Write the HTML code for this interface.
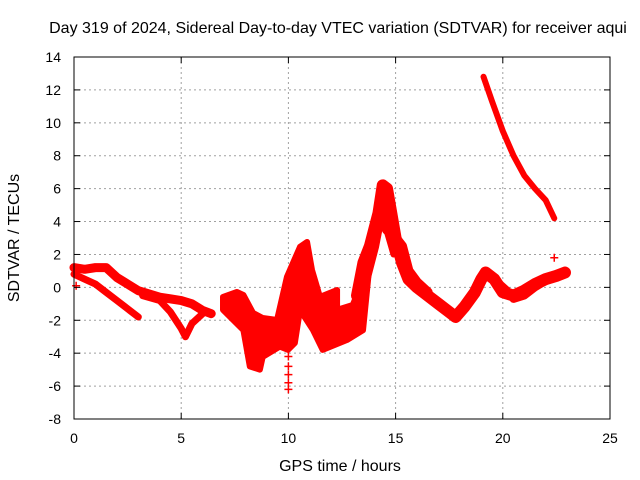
<!DOCTYPE html>
<html><head><meta charset="utf-8"><style>
body{margin:0;background:#fff}
svg{display:block;font-family:"Liberation Sans",sans-serif}
</style></head><body>
<svg id="chart" width="640" height="480" viewBox="0 0 640 480">
<text x="338" y="33" font-size="16" text-anchor="middle">Day 319 of 2024, Sidereal Day-to-day VTEC variation (SDTVAR) for receiver aqui</text>
<text x="340" y="471" font-size="16" text-anchor="middle">GPS time / hours</text>
<text transform="translate(19,238) rotate(-90)" font-size="16" text-anchor="middle">SDTVAR / TECUs</text>
<g id="grid"></g><g id="marks"></g><g id="axes"></g>
</svg>
<script>
const xTicks=[0,5,10,15,20,25];
const yTicks=[-8,-6,-4,-2,0,2,4,6,8,10,12,14];
const bandUpperX=[0,0.5,1,1.5,2,2.5,3,3.5,4,4.5,5,5.5,6,6.4];
const bandUpperY=[1.2,1.1,1.2,1.2,0.6,0.2,-0.2,-0.4,-0.6,-0.7,-0.8,-1.0,-1.4,-1.6];
const bandLowerX=[0,0.5,1,1.5,2,2.5,3];
const bandLowerY=[0.8,0.5,0.2,-0.3,-0.8,-1.3,-1.8];
const dipX=[3.2,4,4.5,5,5.2,5.5,6];
const dipY=[-0.5,-0.8,-1.5,-2.5,-3.0,-2.2,-1.6];
const blobX=[6.95,7.6,7.9,8.35,8.8,9.47,9.93,10.54,10.87,11.1,11.47,12.27,12.27,13.0,13.48,13.95,13.48,12.73,11.6,11.15,10.54,10.3,9.98,9.6,8.8,8.67,8.2,7.9,6.95];
const blobY=[-0.58,-0.28,-0.46,-1.55,-1.86,-1.98,0.63,2.46,2.76,1.06,-0.58,-0.16,-1.37,-1.07,0.45,3.5,-2.6,-3.2,-3.8,-2.6,-1.37,-3.38,-3.8,-3.6,-4.23,-5.0,-4.8,-2.6,-1.37];
const mainX=[13.2,13.5,13.8,14,14.2,14.4,14.6,14.8,15,15.3,15.6,16,16.5,17,17.5,17.8,18.2,18.7,19,19.2,19.6,20,20.5,21,21.5,22,22.5,22.9];
const mainY=[-0.5,1.5,2.5,3.5,4.5,6.2,6.0,4.5,3.0,1.5,0.5,0,-0.5,-1.0,-1.5,-1.8,-1.2,-0.3,0.5,0.9,0.5,-0.3,-0.5,-0.2,0.2,0.5,0.7,0.9];
const peak2X=[13.5,14,14.3,14.6,15,15.3,15.6,16,16.5];
const peak2Y=[0,2.5,4.5,3.5,3.0,2.5,1.0,0.3,-0.3];
const branchX=[14.3,14.5,14.9];
const branchY=[4.5,3.8,2.0];
const lowX=[19.2,19.6,20.2,20.5,21,21.5,22,22.6];
const lowY=[1.0,0.5,-0.2,-0.7,-0.5,0,0.4,0.8];
const highX=[19.1,19.5,20,20.5,21,21.5,22,22.4];
const highY=[12.8,11.3,9.5,8.0,6.8,6.0,5.3,4.2];
const spikeX=[10,10,10,10,10,10,10,0.1,22.4];
const spikeY=[-6.2,-5.8,-5.3,-4.8,-4.2,-3.6,-3.0,0.1,1.8];

const L=74,R=610,T=57,B=419;
const sx=v=>L+(v-0)/(25-0)*(R-L);
const sy=v=>B-(v+8)/(22)*(B-T);
const NS="http://www.w3.org/2000/svg";
function mk(tag,parent){const e=document.createElementNS(NS,tag);document.getElementById(parent).appendChild(e);return e;}

xTicks.forEach(t=>{
 if(t>0&&t<25){const g=mk('line','grid');
 
 
 g.setAttribute('x1',sx(t));g.setAttribute('x2',sx(t));g.setAttribute('y1',T);g.setAttribute('y2',B);
 g.setAttribute('stroke','#a0a0a0');g.setAttribute('stroke-dasharray','2,3');}
 const tl=mk('text','axes');
 
 
 tl.setAttribute('x',sx(t));tl.setAttribute('y',B+24);tl.setAttribute('font-size','14');tl.setAttribute('text-anchor','middle');tl.textContent=t;
 [[B,B-6],[T,T+6]].forEach(p=>{const tk=mk('line','axes');
 
 
 tk.setAttribute('x1',sx(t));tk.setAttribute('x2',sx(t));tk.setAttribute('y1',p[0]);tk.setAttribute('y2',p[1]);tk.setAttribute('stroke','#000');});
});
yTicks.forEach(t=>{
 if(t>-8&&t<14){const g=mk('line','grid');
 
 
 g.setAttribute('x1',L);g.setAttribute('x2',R);g.setAttribute('y1',sy(t));g.setAttribute('y2',sy(t));
 g.setAttribute('stroke','#a0a0a0');g.setAttribute('stroke-dasharray','2,3');}
 const tl=mk('text','axes');
 
 
 tl.setAttribute('x',L-13);tl.setAttribute('y',sy(t)+5);tl.setAttribute('font-size','14');tl.setAttribute('text-anchor','end');tl.textContent=t;
 [[L,L+6],[R,R-6]].forEach(p=>{const tk=mk('line','axes');
 
 
 tk.setAttribute('x1',p[0]);tk.setAttribute('x2',p[1]);tk.setAttribute('y1',sy(t));tk.setAttribute('y2',sy(t));tk.setAttribute('stroke','#000');});
});
const fr=mk('rect','axes');


fr.setAttribute('x',L);fr.setAttribute('y',T);fr.setAttribute('width',R-L);fr.setAttribute('height',B-T);fr.setAttribute('fill','none');fr.setAttribute('stroke','#000');

function series(xs,ys,w,name){
 const p=mk('polyline','marks');
 
 
 p.setAttribute('points',xs.map((x,i)=>sx(x)+','+sy(ys[i])).join(' '));
 p.setAttribute('fill','none');p.setAttribute('stroke','#ff0000');p.setAttribute('stroke-width',w);
 p.setAttribute('stroke-linejoin','round');p.setAttribute('stroke-linecap','round');
}
const blob=mk('polygon','marks');


blob.setAttribute('points',blobX.map((x,i)=>sx(x)+','+sy(blobY[i])).join(' '));
blob.setAttribute('fill','#ff0000');blob.setAttribute('stroke','#ff0000');blob.setAttribute('stroke-width','6');blob.setAttribute('stroke-linejoin','round');
series(bandUpperX,bandUpperY,9,'sdtvar-upper-band');
series(bandLowerX,bandLowerY,7,'sdtvar-lower-band');
series(dipX,dipY,7,'sdtvar-dip-band');
series(mainX,mainY,12,'sdtvar-main-trace');
series(peak2X,peak2Y,10,'sdtvar-peak-branch');
series(branchX,branchY,6,'sdtvar-peak-descent');
series(lowX,lowY,8,'sdtvar-evening-band');
series(highX,highY,6,'sdtvar-high-arc');
spikeX.forEach((x,i)=>{
 const m=mk('path','marks');
 
 
 const cx=sx(x),cy=sy(spikeY[i]);
 m.setAttribute('d',`M${cx-4},${cy}H${cx+4}M${cx},${cy-4}V${cy+4}`);
 m.setAttribute('stroke','#ff0000');m.setAttribute('stroke-width','1.5');
});
</script>
</body></html>
